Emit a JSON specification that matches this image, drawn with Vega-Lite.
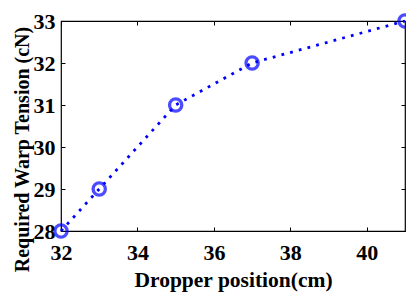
{
  "$schema": "https://vega.github.io/schema/vega-lite/v6.json",
  "width": 344,
  "height": 210,
  "autosize": {"type": "none"},
  "padding": {"left": 61, "top": 21, "right": 1, "bottom": 65},
  "background": "white",
  "config": {
    "view": {"stroke": "black", "strokeWidth": 1.2},
    "font": "Liberation Serif",
    "axis": {
      "labelFont": "Liberation Serif",
      "titleFont": "Liberation Serif",
      "labelFontWeight": "bold",
      "titleFontWeight": "bold",
      "labelFontSize": 22,
      "titleFontSize": 21,
      "labelColor": "black",
      "titleColor": "black",
      "domain": false,
      "grid": false,
      "tickColor": "black",
      "tickSize": -4,
      "tickWidth": 1
    }
  },
  "data": {"values": [
    {"pos": 32, "tension": 28},
    {"pos": 33, "tension": 29},
    {"pos": 35, "tension": 31},
    {"pos": 37, "tension": 32},
    {"pos": 41, "tension": 33}
  ]},
  "layer": [
    {
      "mark": {"type": "line", "color": "#0000FF", "strokeWidth": 2.8, "strokeDash": [2.8, 6.2], "clip": false},
      "encoding": {
        "x": {"field": "pos", "type": "quantitative", "scale": {"domain": [32, 41], "nice": false, "zero": false},
          "axis": {"title": "Dropper position(cm)", "titleFontSize": 21.5, "values": [32, 34, 36, 38, 40], "labelPadding": 15, "titlePadding": 6, "labelFlush": false}},
        "y": {"field": "tension", "type": "quantitative", "scale": {"domain": [28, 33], "nice": false, "zero": false},
          "axis": {"title": "Required Warp Tension (cN)", "titleFontSize": 20, "values": [28, 29, 30, 31, 32, 33], "labelPadding": 10, "titlePadding": 1, "titleY": 128, "labelFlush": false}}
      }
    },
    {
      "mark": {"type": "point", "shape": "circle", "filled": false, "color": "#0000FF", "strokeWidth": 3.3, "size": 150, "clip": false},
      "encoding": {
        "x": {"field": "pos", "type": "quantitative",
          "axis": {"orient": "top", "labels": false, "title": null, "values": [32, 34, 36, 38, 40]}},
        "y": {"field": "tension", "type": "quantitative",
          "axis": {"orient": "right", "labels": false, "title": null, "values": [28, 29, 30, 31, 32, 33]}}
      }
    }
  ],
  "resolve": {"axis": {"x": "independent", "y": "independent"}}
}
